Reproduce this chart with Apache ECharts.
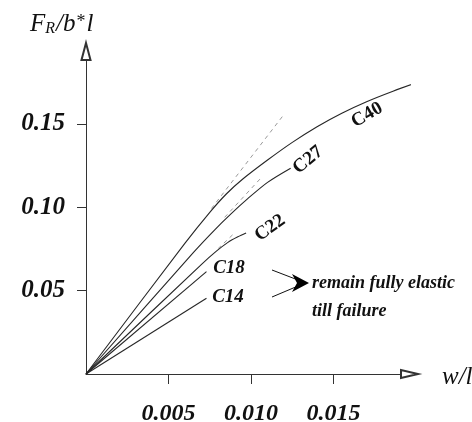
<!DOCTYPE html>
<html>
<head>
<meta charset="utf-8">
<script src="https://cdn.jsdelivr.net/npm/echarts@6/dist/echarts.min.js"></script>
<style>html,body{margin:0;padding:0;background:#fff}#c{width:472px;height:422px}</style>
</head>
<body>
<div id="c"></div>
<script>
// ---- data ----
const xTicks = [0.005, 0.010, 0.015];
const yTicks = [0.05, 0.10, 0.15];

const c40X = [0, 0.0060, 0.0075, 0.0085, 0.0095, 0.0110, 0.0125, 0.0140, 0.0155, 0.0170, 0.0186, 0.0202];
const c40Y = [0, 0.0785, 0.0970, 0.1080, 0.1170, 0.1284, 0.1390, 0.1484, 0.1565, 0.1634, 0.1697, 0.1754];
const c27X = [0, 0.0065, 0.0078, 0.0088, 0.0098, 0.0110, 0.0124];
const c27Y = [0, 0.0728, 0.0865, 0.0962, 0.1052, 0.1150, 0.1235];
const c22X = [0, 0.0070, 0.0079, 0.0086, 0.0092, 0.0097];
const c22Y = [0, 0.0658, 0.0737, 0.0790, 0.0823, 0.0846];
const c18X = [0, 0.0073];
const c18Y = [0, 0.0614];
const c14X = [0, 0.0073];
const c14Y = [0, 0.0454];

// dashed linear-elastic extensions
const d40X = [0.0076, 0.0119];
const d40Y = [0.0993, 0.1545];
const d27X = [0.0084, 0.0106];
const d27Y = [0.0940, 0.1176];
const d22X = [0.0080, 0.0090];
const d22Y = [0.0752, 0.0846];

const pair = (xs, ys) => xs.map((x, i) => [x, ys[i]]);

const chart = echarts.init(document.getElementById('c'), null, {renderer: 'canvas'});

const serif = 'Liberation Serif, Times New Roman, serif';
const axisColor = '#333';

function solid(name, xs, ys, smooth) {
  return {
    name: name, type: 'line', data: pair(xs, ys), showSymbol: false,
    smooth: smooth || false,
    clip: false, silent: true,
    lineStyle: {color: '#262626', width: 1.1}
  };
}
function dashed(name, xs, ys) {
  return {
    name: name, type: 'line', data: pair(xs, ys), showSymbol: false, clip: false, silent: true,
    lineStyle: {color: '#9a9a9a', width: 1, type: [4, 4]}
  };
}

chart.setOption({
  animation: false,
  backgroundColor: '#fff',
  grid: {left: 86, top: 51.5, width: 323.5, height: 322.5, containLabel: false, outerBoundsMode: 'none'},
  xAxis: {
    type: 'value', min: 0, max: 0.0196,
    splitLine: {show: false},
    axisLine: {show: true, onZero: false, lineStyle: {color: axisColor, width: 1},
      symbol: ['none', 'emptyTriangle'], symbolSize: [8, 17]},
    axisTick: {show: true, length: 10, customValues: xTicks, lineStyle: {color: axisColor}},
    axisLabel: {show: true, customValues: xTicks, margin: 28,
      formatter: v => v.toFixed(3),
      fontFamily: serif, fontSize: 24, fontWeight: 'bold', fontStyle: 'italic', color: '#111'}
  },
  yAxis: {
    type: 'value', min: 0, max: 0.1935,
    splitLine: {show: false},
    axisLine: {show: true, onZero: false, lineStyle: {color: axisColor, width: 1},
      symbol: ['none', 'emptyTriangle'], symbolSize: [9, 17]},
    axisTick: {show: true, length: 9, customValues: yTicks, lineStyle: {color: axisColor}},
    axisLabel: {show: true, customValues: yTicks, margin: 21,
      formatter: v => v.toFixed(2),
      fontFamily: serif, fontSize: 25, fontWeight: 'bold', fontStyle: 'italic', color: '#111'}
  },
  series: [
    solid('C40', c40X, c40Y, 0.3),
    solid('C27', c27X, c27Y, 0.3),
    solid('C22', c22X, c22Y, 0.3),
    solid('C18', c18X, c18Y),
    solid('C14', c14X, c14Y),
    dashed('C40 linear', d40X, d40Y),
    dashed('C27 linear', d27X, d27Y),
    dashed('C22 linear', d22X, d22Y)
  ],
  graphic: [
    {type: 'text', left: 30, top: 12, silent: true,
      style: {text: '{f|F}{s|R}{f|/b}{a|*}{f|l}', fill: '#111',
        rich: {
          f: {fontFamily: serif, fontSize: 25, fontStyle: 'italic', fill: '#111', verticalAlign: 'bottom'},
          s: {fontFamily: serif, fontSize: 16, fontStyle: 'italic', fill: '#111', padding: [0, 1, 0, 0], verticalAlign: 'bottom'},
          a: {fontFamily: serif, fontSize: 18, fill: '#111', padding: [0, 1, 6, 1], verticalAlign: 'bottom'}
        }}},
    {type: 'text', x: 442, y: 377, silent: true,
      style: {text: 'w/l', fontFamily: serif, fontSize: 25, fontStyle: 'italic', fill: '#111', verticalAlign: 'middle'}},
    // curve labels
    {type: 'text', x: 367, y: 115, rotation: 30 * Math.PI / 180, silent: true,
      style: {text: 'C40', fontFamily: serif, fontSize: 19, fontWeight: 'bold', fill: '#111', align: 'center', verticalAlign: 'middle'}},
    {type: 'text', x: 308, y: 160, rotation: 40 * Math.PI / 180, silent: true,
      style: {text: 'C27', fontFamily: serif, fontSize: 19, fontWeight: 'bold', fill: '#111', align: 'center', verticalAlign: 'middle'}},
    {type: 'text', x: 270, y: 228, rotation: 36 * Math.PI / 180, silent: true,
      style: {text: 'C22', fontFamily: serif, fontSize: 19, fontWeight: 'bold', fill: '#111', align: 'center', verticalAlign: 'middle'}},
    {type: 'text', x: 229, y: 268, silent: true,
      style: {text: 'C18', fontFamily: serif, fontSize: 19, fontStyle: 'italic', fontWeight: 'bold', fill: '#111', align: 'center', verticalAlign: 'middle'}},
    {type: 'text', x: 228, y: 297, silent: true,
      style: {text: 'C14', fontFamily: serif, fontSize: 19, fontStyle: 'italic', fontWeight: 'bold', fill: '#111', align: 'center', verticalAlign: 'middle'}},
    // annotation arrows
    {type: 'line', silent: true, shape: {x1: 272, y1: 270, x2: 298, y2: 280}, style: {stroke: '#111', lineWidth: 1}},
    {type: 'line', silent: true, shape: {x1: 272, y1: 297, x2: 298, y2: 286}, style: {stroke: '#111', lineWidth: 1}},
    {type: 'polygon', silent: true, shape: {points: [[292, 274], [309, 283], [292, 292], [297, 283]]}, style: {fill: '#000'}},
    {type: 'text', x: 312, y: 283, silent: true,
      style: {text: 'remain fully elastic', fontFamily: serif, fontSize: 18, fontStyle: 'italic', fontWeight: 'bold', fill: '#111', verticalAlign: 'middle'}},
    {type: 'text', x: 312, y: 311, silent: true,
      style: {text: 'till failure', fontFamily: serif, fontSize: 18, fontStyle: 'italic', fontWeight: 'bold', fill: '#111', verticalAlign: 'middle'}}
  ]
});
</script>
</body>
</html>
